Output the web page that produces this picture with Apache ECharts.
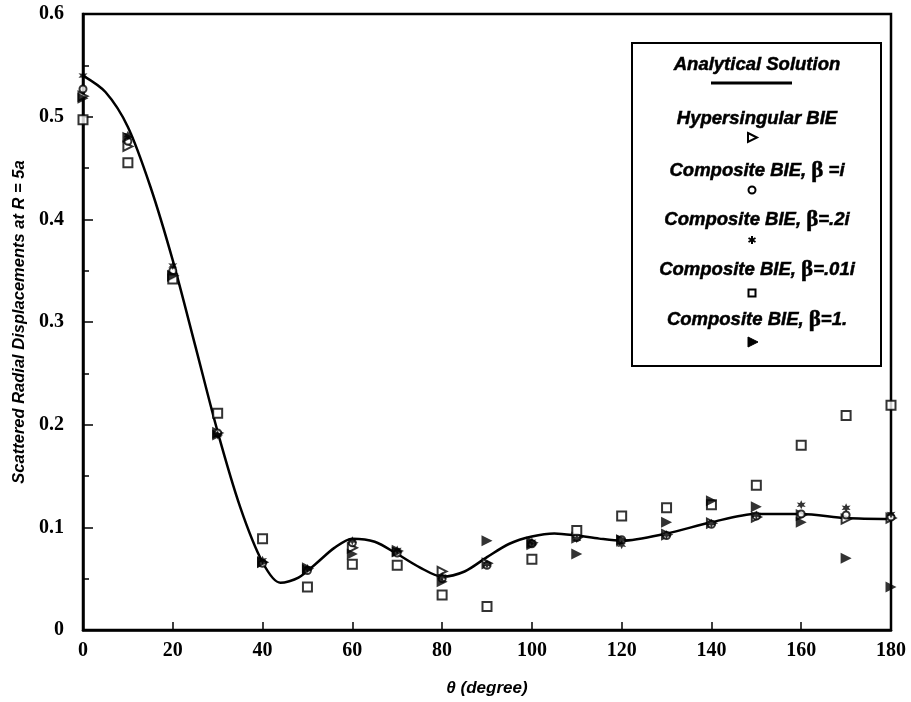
<!DOCTYPE html>
<html>
<head>
<meta charset="utf-8">
<script src="https://cdn.jsdelivr.net/npm/echarts@6/dist/echarts.min.js"></script>
<style>
  html, body { margin: 0; padding: 0; background: #fff; }
  #main { width: 911px; height: 702px; }
</style>
</head>
<body>
<div id="main"></div>
<script>
// analytical solution
var curveTheta = [0, 5, 10, 15, 20, 25, 30, 35, 40, 44, 48, 52, 56, 60, 65, 70, 75, 80, 85, 90, 95, 100, 105, 110, 115, 120, 130, 140, 150, 160, 170, 180];
var curveVal   = [0.540, 0.524, 0.490, 0.432, 0.360, 0.277, 0.193, 0.120, 0.066, 0.046, 0.051, 0.065, 0.080, 0.089, 0.086, 0.074, 0.061, 0.052, 0.057, 0.071, 0.084, 0.091, 0.094, 0.092, 0.089, 0.087, 0.094, 0.105, 0.113, 0.113, 0.109, 0.108];

// numerical results at every 10 degrees
var theta    = [0, 10, 20, 30, 40, 50, 60, 70, 80, 90, 100, 110, 120, 130, 140, 150, 160, 170, 180];
var hyper    = [0.520, 0.471, 0.345, 0.192, 0.066, 0.060, 0.080, 0.077, 0.057, 0.065, 0.085, 0.090, 0.087, 0.093, 0.104, 0.110, 0.112, 0.108, 0.109];
var compI    = [0.527, 0.476, 0.350, 0.192, 0.065, 0.058, 0.085, 0.075, 0.050, 0.063, 0.084, 0.090, 0.088, 0.092, 0.103, 0.111, 0.113, 0.112, 0.110];
var comp02i  = [0.540, 0.482, 0.355, 0.190, 0.068, 0.060, 0.087, 0.078, 0.052, 0.064, 0.086, 0.089, 0.083, 0.093, 0.104, 0.112, 0.122, 0.119, 0.113];
var comp001i = [0.497, 0.455, 0.342, 0.211, 0.089, 0.042, 0.064, 0.063, 0.034, 0.023, 0.069, 0.097, 0.111, 0.119, 0.122, 0.141, 0.180, 0.209, 0.219];
var comp1    = [0.518, 0.480, 0.345, 0.190, 0.066, 0.059, 0.074, 0.076, 0.047, 0.087, 0.083, 0.074, 0.088, 0.105, 0.126, 0.120, 0.105, 0.070, 0.042];

var xTicks = [0, 20, 40, 60, 80, 100, 120, 140, 160, 180];
var yTicks = [0, 0.1, 0.2, 0.3, 0.4, 0.5, 0.6];

function pairs(xs, ys) {
  return xs.map(function (x, i) { return [x, ys[i]]; });
}

var starPath = 'path://M0,-5L1.2,-2L4.3,-2.5L2.4,0L4.3,2.5L1.2,2L0,5L-1.2,2L-4.3,2.5L-2.4,0L-4.3,-2.5L-1.2,-2Z';
var openStyle = { color: '#fff', borderColor: '#000', borderWidth: 2 };

var chart = echarts.init(document.getElementById('main'));

var legendFont = 'italic bold 18.5px "Liberation Sans", Arial, sans-serif';
var betaRich = { b: { fontFamily: '"Liberation Serif", serif', fontWeight: 'bold', fontStyle: 'normal', fontSize: 23, fill: '#000' } };
function legendText(txt, y) {
  return {
    type: 'text', x: 757, y: y, z: 101,
    style: { text: txt, font: legendFont, fill: '#000', stroke: '#000', lineWidth: 0.5, align: 'center', verticalAlign: 'middle',
             textAlign: 'center', textVerticalAlign: 'middle', rich: betaRich }
  };
}

chart.setOption({
  animation: false,
  backgroundColor: '#fff',
  grid: { left: 83, right: 20, top: 14, bottom: 71, show: true, borderColor: '#000', borderWidth: 2.5 },
  xAxis: {
    type: 'value', min: 0, max: 180, interval: 20,
    name: 'θ (degree)', nameLocation: 'middle', nameGap: 50,
    nameTextStyle: { fontFamily: '"Liberation Sans", Arial, sans-serif', fontStyle: 'italic', fontWeight: 'bold', fontSize: 17, color: '#000' },
    axisLine: { lineStyle: { color: '#000', width: 2.5 } },
    axisTick: { inside: true, length: 8, lineStyle: { color: '#000', width: 1.5 } },
    axisLabel: { margin: 11, fontFamily: '"Liberation Serif", serif', fontWeight: 'bold', fontSize: 20, color: '#000',
                 formatter: function (v) { return xTicks.indexOf(v) >= 0 ? String(v) : ''; } },
    splitLine: { show: false }
  },
  yAxis: {
    type: 'value', min: 0, max: 0.6, interval: 0.1,
    name: 'Scattered Radial Displacements at R = 5a', nameLocation: 'middle', nameGap: 52,
    nameTextStyle: { fontFamily: '"Liberation Sans", Arial, sans-serif', fontStyle: 'italic', fontWeight: 'bold', fontSize: 16.5, color: '#000' },
    axisLine: { lineStyle: { color: '#000', width: 2.5 } },
    axisTick: { inside: true, length: 10, lineStyle: { color: '#000', width: 1.5 } },
    minorTick: { show: true, splitNumber: 2, length: 6, lineStyle: { color: '#000', width: 1.5 } },
    axisLabel: { margin: 19, fontFamily: '"Liberation Serif", serif', fontWeight: 'bold', fontSize: 20, color: '#000',
                 formatter: function (v) { var r = Math.round(v * 10) / 10; return yTicks.indexOf(r) >= 0 ? String(r) : ''; } },
    splitLine: { show: false }
  },
  series: [
    { name: 'Analytical Solution', type: 'line', data: pairs(curveTheta, curveVal), smooth: 0.3, symbol: 'none',
      lineStyle: { color: '#000', width: 2.5 }, z: 2 },
    { name: 'Hypersingular BIE', type: 'scatter', data: pairs(theta, hyper), symbol: 'triangle', symbolRotate: -90,
      symbolSize: 9, itemStyle: openStyle, z: 3 },
    { name: 'Composite BIE, β=i', type: 'scatter', data: pairs(theta, compI), symbol: 'circle',
      symbolSize: 7, itemStyle: openStyle, z: 3 },
    { name: 'Composite BIE, β=.2i', type: 'scatter', data: pairs(theta, comp02i), symbol: starPath,
      symbolSize: 9, itemStyle: { color: '#000' }, z: 3 },
    { name: 'Composite BIE, β=.01i', type: 'scatter', data: pairs(theta, comp001i), symbol: 'rect',
      symbolSize: 9, itemStyle: openStyle, z: 3 },
    { name: 'Composite BIE, β=1.', type: 'scatter', data: pairs(theta, comp1), symbol: 'triangle', symbolRotate: -90,
      symbolSize: 11, itemStyle: { color: '#000' }, z: 3 }
  ],
  graphic: [
    { type: 'rect', z: 100, shape: { x: 632, y: 43, width: 249, height: 323 },
      style: { fill: '#fff', stroke: '#000', lineWidth: 2 } },
    legendText('Analytical Solution', 65),
    { type: 'line', z: 101, shape: { x1: 711, y1: 83, x2: 792, y2: 83 }, style: { stroke: '#000', lineWidth: 3 } },
    legendText('Hypersingular BIE', 119),
    { type: 'polygon', z: 101, shape: { points: [[748, 133], [757, 137.5], [748, 142]] },
      style: { fill: '#fff', stroke: '#000', lineWidth: 2 } },
    legendText('Composite BIE, {b|β} =i', 171),
    { type: 'circle', z: 101, shape: { cx: 752, cy: 190, r: 3.5 }, style: { fill: '#fff', stroke: '#000', lineWidth: 2 } },
    legendText('Composite BIE, {b|β}=.2i', 220),
    { type: 'line', z: 101, shape: { x1: 752, y1: 236, x2: 752, y2: 244 }, style: { stroke: '#000', lineWidth: 2 } },
    { type: 'line', z: 101, shape: { x1: 748.5, y1: 238, x2: 755.5, y2: 242 }, style: { stroke: '#000', lineWidth: 2 } },
    { type: 'line', z: 101, shape: { x1: 748.5, y1: 242, x2: 755.5, y2: 238 }, style: { stroke: '#000', lineWidth: 2 } },
    legendText('Composite BIE, {b|β}=.01i', 270),
    { type: 'rect', z: 101, shape: { x: 748.5, y: 289.5, width: 7, height: 7 }, style: { fill: '#fff', stroke: '#000', lineWidth: 2 } },
    legendText('Composite BIE, {b|β}=1.', 320),
    { type: 'polygon', z: 101, shape: { points: [[748, 337], [758, 342], [748, 347]] },
      style: { fill: '#000', stroke: '#000', lineWidth: 1 } }
  ]
});
</script>
</body>
</html>
